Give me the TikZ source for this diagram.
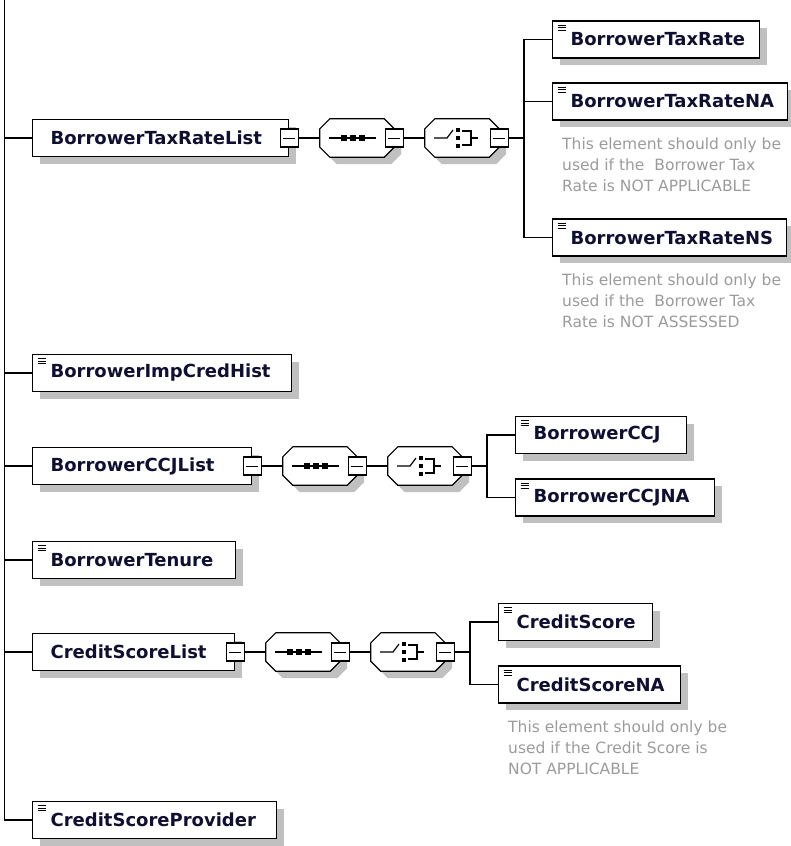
\documentclass[tikz,border=0pt]{standalone}
\usepackage{fontspec}
\setmainfont{DejaVu Sans}
\usetikzlibrary{positioning,shadows}

\definecolor{elemtext}{RGB}{15,15,50}
\definecolor{notegray}{RGB}{155,155,155}
\definecolor{shade}{RGB}{192,192,192}

\tikzset{
  link/.style={line width=1.2pt},
  sdw/.style={drop shadow={shadow xshift=7pt,shadow yshift=-7pt,fill=shade,opacity=1}},
  elem/.style={draw, line width=1.2pt, fill=white, sdw, minimum height=37pt,
    inner ysep=0pt, inner xsep=18pt, anchor=west, align=left, text width=#1,
    font=\fontsize{18}{20}\selectfont\bfseries, text=elemtext},
  leaf/.style={elem=#1, path picture={
    \foreach \k in {0,1,2}
      \draw[line width=0.9pt] ([xshift=5pt,yshift=-4pt-2.6*\k pt]path picture bounding box.north west) -- ++(8pt,0pt);}},
  expander/.style={draw, line width=1.2pt, fill=white, minimum size=18pt, inner sep=0pt,
    path picture={\draw[line width=1pt] ([xshift=3pt]path picture bounding box.west) -- ([xshift=-3pt]path picture bounding box.east);}},
  compositor/.style={rectangle, minimum width=74pt, minimum height=38pt, inner sep=0pt},
  note/.style={anchor=north west, inner sep=0pt, align=left, text=notegray,
    font=\fontsize{15.5}{21}\selectfont}
}

% octagon outline of a compositor, with its sequence or choice mark
\newcommand\octagon[1]{%
  \filldraw[link, fill=white, sdw] ([xshift=10pt]#1.north west) -- ([xshift=-10pt]#1.north east)
    -- ([yshift=-10pt]#1.north east) -- ([yshift=10pt]#1.south east)
    -- ([xshift=-10pt]#1.south east) -- ([xshift=10pt]#1.south west)
    -- ([yshift=10pt]#1.south west) -- ([yshift=-10pt]#1.north west) -- cycle;
}
\newcommand\seqmark[1]{%
  \octagon{#1}
  \draw[line width=1.2pt] ([xshift=-28pt]#1.center) -- ([xshift=19pt]#1.center);
  \foreach \d in {-13,-4,5}
    \fill ([xshift=\d pt]#1.center) +(-2.8pt,-2.8pt) rectangle +(2.8pt,2.8pt);
}
\newcommand\choicemark[1]{%
  \octagon{#1}
  \draw[line width=1.2pt] ([xshift=-28pt]#1.center) -- ++(13pt,0pt) -- ++(6pt,8pt);
  \foreach \d in {-8,0,8}
    \fill ([xshift=-4pt,yshift=\d pt]#1.center) +(-2.4pt,-2.4pt) rectangle +(2.4pt,2.4pt);
  \draw[line width=1.2pt] ([xshift=-0.5pt,yshift=7pt]#1.center) -- ++(9.5pt,0pt) -- ++(0pt,-14pt) -- ++(-9.5pt,0pt);
  \draw[line width=1.2pt] ([xshift=9pt]#1.center) -- ++(7pt,0pt);
}

\begin{document}
\begin{tikzpicture}[x=1pt,y=-1pt]
\useasboundingbox (0,0) rectangle (791,846);

\coordinate (spine) at (4.5,-2);

% BorrowerTaxRateList
\node[elem=220pt] (taxList) at (32,138) {BorrowerTaxRateList};
\node[expander] (taxListX) at (taxList.east) {};
\node[compositor, right=21pt of taxListX.east] (taxSeq) {};
\seqmark{taxSeq}
\node[expander] (taxSeqX) at (taxSeq.east) {};
\node[compositor, right=21pt of taxSeqX.east] (taxChoice) {};
\choicemark{taxChoice}
\node[expander] (taxChoiceX) at (taxChoice.east) {};
\coordinate (taxFork) at (524,138);
\node[leaf=171pt] (taxRate) at (552,39.5) {BorrowerTaxRate};
\node[leaf=199pt] (taxRateNA) at (552,101.5) {BorrowerTaxRateNA};
\node[leaf=198pt] (taxRateNS) at (552,237.5) {BorrowerTaxRateNS};
\node[note, below right=17pt and 10pt of taxRateNA.south west] (taxNANote)
  {This element should only be\\used if the~ Borrower Tax\\Rate is NOT APPLICABLE};
\node[note, below right=17pt and 10pt of taxRateNS.south west] (taxNSNote)
  {This element should only be\\used if the~ Borrower Tax\\Rate is NOT ASSESSED};

\node[leaf=223pt] (impCred) at (32,373) {BorrowerImpCredHist};

% BorrowerCCJList
\node[elem=183pt] (ccjList) at (32,466) {BorrowerCCJList};
\node[expander] (ccjListX) at (ccjList.east) {};
\node[compositor, right=21pt of ccjListX.east] (ccjSeq) {};
\seqmark{ccjSeq}
\node[expander] (ccjSeqX) at (ccjSeq.east) {};
\node[compositor, right=21pt of ccjSeqX.east] (ccjChoice) {};
\choicemark{ccjChoice}
\node[expander] (ccjChoiceX) at (ccjChoice.east) {};
\coordinate (ccjFork) at (487,466);
\node[leaf=135pt] (ccj) at (515,435) {BorrowerCCJ};
\node[leaf=163pt] (ccjNA) at (515,497.5) {BorrowerCCJNA};

\node[leaf=167pt] (tenure) at (32,560) {BorrowerTenure};

% CreditScoreList
\node[elem=166pt] (csList) at (32,652) {CreditScoreList};
\node[expander] (csListX) at (csList.east) {};
\node[compositor, right=21pt of csListX.east] (csSeq) {};
\seqmark{csSeq}
\node[expander] (csSeqX) at (csSeq.east) {};
\node[compositor, right=21pt of csSeqX.east] (csChoice) {};
\choicemark{csChoice}
\node[expander] (csChoiceX) at (csChoice.east) {};
\coordinate (csFork) at (470,652);
\node[leaf=118pt] (cs) at (498,622) {CreditScore};
\node[leaf=146pt] (csNA) at (498,684.5) {CreditScoreNA};
\node[note, below right=17pt and 10pt of csNA.south west] (csNANote)
  {This element should only be\\used if the Credit Score is\\NOT APPLICABLE};

\node[leaf=208pt] (csProv) at (32,820) {CreditScoreProvider};

% connectors
\draw[link] (spine) |- (csProv.west);
\foreach \n in {taxList,impCred,ccjList,tenure,csList}
  \draw[link] (spine |- \n.west) -- (\n.west);
\foreach \r in {tax,ccj,cs} {
  \draw[link] (\r ListX.east) -- (\r Seq.west);
  \draw[link] (\r SeqX.east) -- (\r Choice.west);
  \draw[link] (\r ChoiceX.east) -- (\r Fork);
}
\draw[link] (taxRate.west) -| (taxFork) |- (taxRateNS.west);
\draw[link] (taxFork |- taxRateNA.west) -- (taxRateNA.west);
\draw[link] (ccj.west) -| (ccjFork) |- (ccjNA.west);
\draw[link] (cs.west) -| (csFork) |- (csNA.west);
\end{tikzpicture}
\end{document}
